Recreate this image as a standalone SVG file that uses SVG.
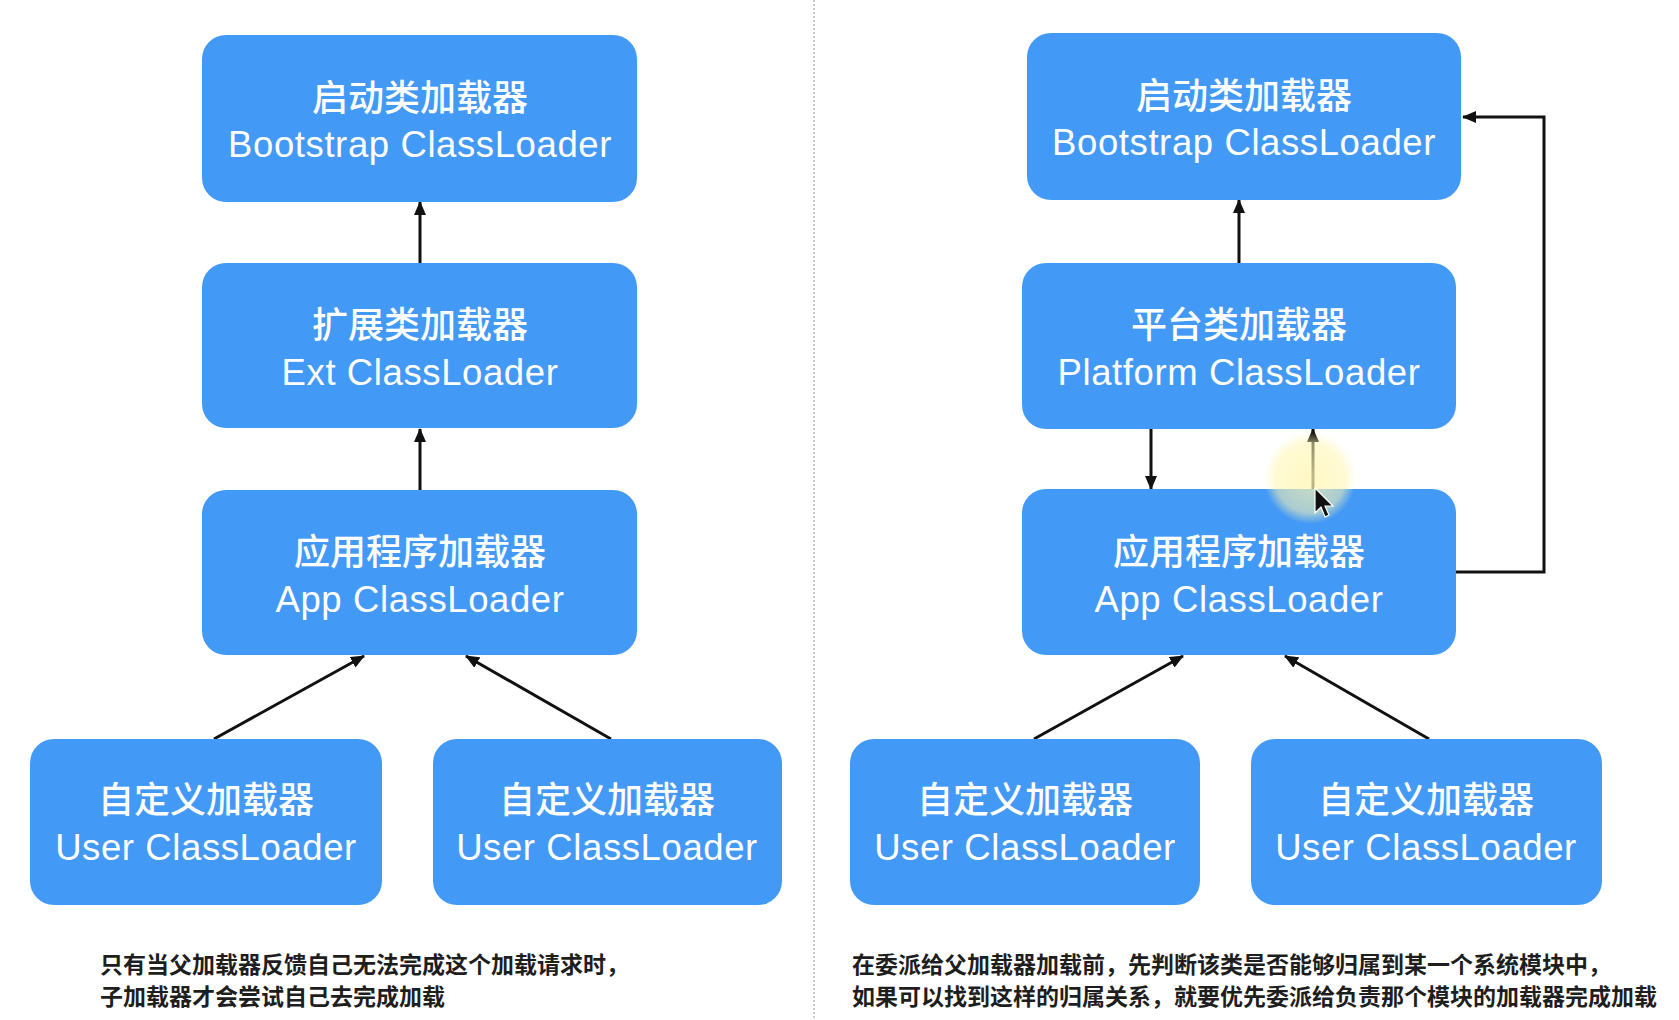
<svg xmlns="http://www.w3.org/2000/svg" width="1679" height="1020" viewBox="0 0 1679 1020">
<style>
.box{fill:#4399F6}
.cn{font-family:"Noto Sans CJK SC","Liberation Sans",sans-serif;font-size:36px;font-weight:500;fill:#ffffff;text-anchor:middle}
.en{font-family:"Liberation Sans","Noto Sans CJK SC",sans-serif;font-size:36.5px;letter-spacing:0.6px;fill:#ffffff;text-anchor:middle}
.cap{font-family:"Noto Sans CJK SC",sans-serif;font-size:23px;font-weight:600;fill:#1e1e1e}
.edge{stroke:#111111;stroke-width:3;fill:none;marker-end:url(#arr)}
</style>
<defs>
<marker id="arr" viewBox="0 0 14 12" markerWidth="14" markerHeight="12" refX="13" refY="6" orient="auto" markerUnits="userSpaceOnUse">
<path d="M0,0 L14,6 L0,12 z" fill="#111111"/>
</marker>
<radialGradient id="glow">
<stop offset="0" stop-color="#fff6b0" stop-opacity="0.75"/>
<stop offset="0.75" stop-color="#fff6b0" stop-opacity="0.55"/>
<stop offset="1" stop-color="#fff6b0" stop-opacity="0"/>
</radialGradient>
</defs>
<rect width="1679" height="1020" fill="#ffffff"/>
<line x1="814" y1="0" x2="814" y2="1020" stroke="#9a9a9a" stroke-width="1" stroke-dasharray="2 2"/>

<g id="connectors">
<line class="edge" x1="420" y1="263" x2="420" y2="202"/>
<line class="edge" x1="420" y1="490" x2="420" y2="429"/>
<line class="edge" x1="214" y1="739" x2="364" y2="656"/>
<line class="edge" x1="611" y1="739" x2="466" y2="656"/>
<line class="edge" x1="1239" y1="263" x2="1239" y2="200"/>
<line class="edge" x1="1151" y1="429" x2="1151" y2="489"/>
<line class="edge" x1="1313" y1="489" x2="1313" y2="429"/>
<polyline class="edge" points="1456,572 1544,572 1544,117 1463,117"/>
<line class="edge" x1="1034" y1="739" x2="1183" y2="656"/>
<line class="edge" x1="1429" y1="739" x2="1285" y2="656"/>
</g>

<g id="left-bootstrap">
<rect class="box" x="202" y="35" width="435" height="167" rx="24"/>
<text class="cn" x="420" y="111">启动类加载器</text>
<text class="en" x="420" y="157">Bootstrap ClassLoader</text>
</g>
<g id="left-ext">
<rect class="box" x="202" y="263" width="435" height="165" rx="24"/>
<text class="cn" x="420" y="338">扩展类加载器</text>
<text class="en" x="420" y="385">Ext ClassLoader</text>
</g>
<g id="left-app">
<rect class="box" x="202" y="490" width="435" height="165" rx="24"/>
<text class="cn" x="420" y="565">应用程序加载器</text>
<text class="en" x="420" y="612">App ClassLoader</text>
</g>
<g id="left-user1">
<rect class="box" x="30" y="739" width="352" height="166" rx="24"/>
<text class="cn" x="206" y="813">自定义加载器</text>
<text class="en" x="206" y="860">User ClassLoader</text>
</g>
<g id="left-user2">
<rect class="box" x="433" y="739" width="349" height="166" rx="24"/>
<text class="cn" x="607" y="813">自定义加载器</text>
<text class="en" x="607" y="860">User ClassLoader</text>
</g>

<g id="right-bootstrap">
<rect class="box" x="1027" y="33" width="434" height="167" rx="24"/>
<text class="cn" x="1244" y="109">启动类加载器</text>
<text class="en" x="1244" y="155">Bootstrap ClassLoader</text>
</g>
<g id="right-platform">
<rect class="box" x="1022" y="263" width="434" height="166" rx="24"/>
<text class="cn" x="1239" y="338">平台类加载器</text>
<text class="en" x="1239" y="385">Platform ClassLoader</text>
</g>
<g id="right-app">
<rect class="box" x="1022" y="489" width="434" height="166" rx="24"/>
<text class="cn" x="1239" y="565">应用程序加载器</text>
<text class="en" x="1239" y="612">App ClassLoader</text>
</g>
<g id="right-user1">
<rect class="box" x="850" y="739" width="350" height="166" rx="24"/>
<text class="cn" x="1025" y="813">自定义加载器</text>
<text class="en" x="1025" y="860">User ClassLoader</text>
</g>
<g id="right-user2">
<rect class="box" x="1251" y="739" width="351" height="166" rx="24"/>
<text class="cn" x="1426" y="813">自定义加载器</text>
<text class="en" x="1426" y="860">User ClassLoader</text>
</g>

<g id="captions">
<text class="cap" x="100" y="973">只有当父加载器反馈自己无法完成这个加载请求时，</text>
<text class="cap" x="100" y="1005">子加载器才会尝试自己去完成加载</text>
<text class="cap" x="852" y="973">在委派给父加载器加载前，先判断该类是否能够归属到某一个系统模块中，</text>
<text class="cap" x="852" y="1005">如果可以找到这样的归属关系，就要优先委派给负责那个模块的加载器完成加载</text>
</g>

<g id="cursor">
<circle cx="1310" cy="478" r="46" fill="url(#glow)"/>
<path d="M1315,488 L1315,513 L1321,507 L1325,517 L1329,515 L1325,506 L1333,506 z" fill="#111111" stroke="#ffffff" stroke-width="1.2"/>
</g>
</svg>
